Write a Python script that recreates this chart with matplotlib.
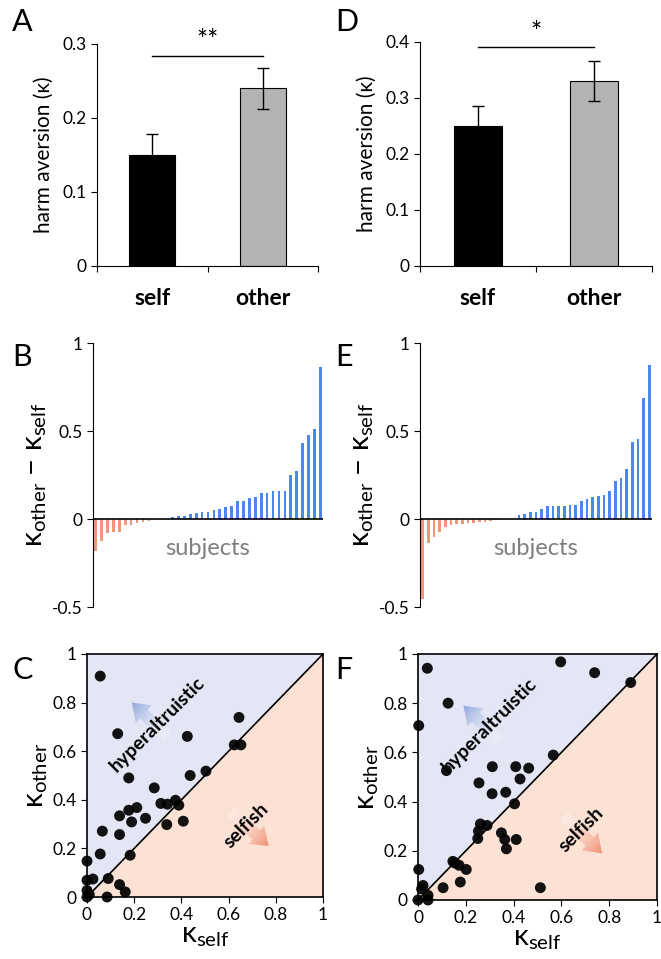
from matplotlib import pyplot as plt
from matplotlib.patches import Polygon, FancyArrow
import numpy as np

plt.rcParams['font.family'] = ['Lato', 'DejaVu Sans']
plt.rcParams['mathtext.fontset'] = 'custom'
plt.rcParams['mathtext.rm'] = 'Lato'
plt.rcParams['mathtext.it'] = 'Lato:italic'
plt.rcParams['mathtext.bf'] = 'Lato:bold'

W, H = 661, 959

# ---- data ----
groups = ["self", "other"]
kappa_A = [0.15, 0.24]
err_A = [0.028, 0.028]
kappa_D = [0.25, 0.33]
err_D = [0.036, 0.036]

diff_B = [-0.18, -0.123, -0.078, -0.072, -0.072, -0.032, -0.032, -0.023, -0.017, -0.01,
          0, 0, 0,
          0.01, 0.015, 0.015, 0.027, 0.032, 0.038, 0.038, 0.049, 0.057, 0.068, 0.074,
          0.1, 0.102, 0.12, 0.127, 0.146, 0.15, 0.161, 0.161, 0.161, 0.249, 0.271,
          0.433, 0.476, 0.512, 0.863]
diff_E = [-0.455, -0.137, -0.102, -0.076, -0.046, -0.034, -0.03, -0.027, -0.023, -0.023,
          -0.019, -0.017, -0.013, -0.008,
          0, 0, 0,
          0.02, 0.03, 0.038, 0.042, 0.059, 0.072, 0.072, 0.072, 0.076, 0.08, 0.08,
          0.1, 0.114, 0.127, 0.131, 0.135, 0.157, 0.218, 0.235, 0.283, 0.436, 0.457,
          0.69, 0.873]

self_C = [0.056, 0.13, 0.177, 0.285, 0.644, 0.425, 0.624, 0.652, 0.437, 0.504,
          0.138, 0.177, 0.211, 0.248, 0.189, 0.313, 0.341, 0.375, 0.389, 0.338,
          0.408, 0.065, 0.138, 0.056, 0.183, 0.0, 0.0, 0.025, 0.09, 0.138,
          0.162, 0.085, 0.0, 0.0, 0.01]
other_C = [0.909, 0.672, 0.49, 0.449, 0.739, 0.661, 0.626, 0.626, 0.5, 0.518,
           0.334, 0.357, 0.368, 0.324, 0.309, 0.385, 0.382, 0.398, 0.378, 0.298,
           0.312, 0.271, 0.257, 0.177, 0.172, 0.148, 0.069, 0.074, 0.076, 0.051,
           0.021, 0.0, 0.027, 0.0, 0.01]

self_F = [0.039, 0.597, 0.739, 0.89, 0.126, 0.003, 0.119, 0.566, 0.311, 0.409,
          0.463, 0.427, 0.255, 0.31, 0.367, 0.404, 0.261, 0.289, 0.253, 0.25,
          0.349, 0.363, 0.411, 0.37, 0.146, 0.172, 0.202, 0.003, 0.021, 0.015,
          0.105, 0.177, 0.512, 0.0, 0.042, 0.042, 0.155]
other_F = [0.942, 0.968, 0.924, 0.884, 0.8, 0.709, 0.526, 0.589, 0.542, 0.542,
           0.536, 0.492, 0.476, 0.432, 0.438, 0.391, 0.309, 0.303, 0.28, 0.25,
           0.273, 0.246, 0.246, 0.208, 0.157, 0.141, 0.124, 0.124, 0.059, 0.045,
           0.05, 0.073, 0.05, 0.0, 0.019, 0.0, 0.15]

BLUE = "#4b87ef"
ORANGE = "#f4957b"

fig = plt.figure(figsize=(W / 100, H / 100), dpi=100)


def px_axes(l, t, r, b):
    return fig.add_axes([l / W, 1 - b / H, (r - l) / W, (b - t) / H])


def bar_panel(ax, vals, errs, ymax, star, sig_y):
    ax.bar([0, 1], vals, width=0.42, color=["black", "#b3b3b3"], edgecolor="black",
           linewidth=0.8, yerr=errs, capsize=4, error_kw=dict(elinewidth=1, capthick=1))
    ax.set_xlim(-0.5, 1.5)
    ax.set_ylim(0, ymax)
    ax.set_yticks(np.arange(0, ymax + 0.001, 0.1))
    ax.set_yticklabels(["0"] + ["%.1f" % v for v in np.arange(0.1, ymax + 0.001, 0.1)])
    ax.set_xticks([-0.5, 0.5, 1.5])
    ax.set_xticklabels([])
    ax.tick_params(direction="out", length=4, labelsize=12.5)
    for s in ["top", "right"]:
        ax.spines[s].set_visible(False)
    ax.set_ylabel("harm aversion (κ)", fontsize=15, labelpad=6)
    for i, g in enumerate(groups):
        ax.text(i, -0.145 * ymax, g, ha="center", va="center", fontsize=16.5,
                fontweight="bold", transform=ax.transData, clip_on=False)
    ax.plot([0, 1], [sig_y, sig_y], color="black", lw=1, clip_on=False)
    ax.text(0.5, sig_y + 0.002 * ymax / 0.3, star, ha="center", va="bottom", fontsize=19,
            clip_on=False)


def diff_panel(ax, vals):
    x = np.arange(len(vals))
    cols = [ORANGE if v < 0 else BLUE for v in vals]
    ax.bar(x, vals, width=0.45, color=cols, linewidth=0)
    ax.set_xlim(-0.45, len(vals) - 0.55)
    ax.set_ylim(-0.5, 1)
    ax.axhline(0, color="black", lw=1.2)
    ax.set_yticks([-0.5, 0, 0.5, 1])
    ax.set_yticklabels(["-0.5", "0", "0.5", "1"])
    ax.set_xticks([])
    ax.tick_params(direction="out", length=4, labelsize=12.5)
    for s in ["top", "right", "bottom"]:
        ax.spines[s].set_visible(False)
    ax.set_ylabel("κ$_{\\mathrm{other}}$ − κ$_{\\mathrm{self}}$", fontsize=21, labelpad=2)
    ax.text(0.5, -0.165, "subjects", color="#7f7f7f", fontsize=17, ha="center",
            va="center", transform=ax.get_yaxis_transform())


def grad_arrow(ax, x0, y0, x1, y1, color):
    dx, dy = x1 - x0, y1 - y0
    arr = FancyArrow(x0, y0, dx, dy, width=0.05, head_width=0.1, head_length=0.07,
                     length_includes_head=True, facecolor="none", edgecolor="none")
    ax.add_patch(arr)
    gx = np.linspace(0, 1, 300)
    X, Y = np.meshgrid(gx, gx)
    t = np.clip(((X - x0) * dx + (Y - y0) * dy) / (dx * dx + dy * dy), 0, 1)
    c = np.array(plt.matplotlib.colors.to_rgb(color))
    img = np.ones((300, 300, 4))
    for k in range(3):
        img[..., k] = 1 - (1 - c[k]) * t
    img[..., 3] = 0.25 + 0.75 * t
    im = ax.imshow(img, extent=[0, 1, 0, 1], origin="lower", aspect="auto", zorder=2)
    im.set_clip_path(arr)


def scatter_panel(ax, xs, ys, t1, t2):
    ax.add_patch(Polygon([(0, 0), (0, 1), (1, 1)], closed=True, facecolor="#e4e6f5",
                         edgecolor="none", zorder=0))
    ax.add_patch(Polygon([(0, 0), (1, 0), (1, 1)], closed=True, facecolor="#fce2d5",
                         edgecolor="none", zorder=0))
    ax.plot([0, 1], [0, 1], color="black", lw=1.2, zorder=1)
    grad_arrow(ax, *t1[0], "#8fa6dc")
    grad_arrow(ax, *t2[0], "#f28f6f")
    ax.scatter(xs, ys, s=62, color="black", alpha=0.92, edgecolors="none", zorder=4,
               clip_on=False)
    ax.text(t1[1][0], t1[1][1], "hyperaltruistic", rotation=45, ha="center", va="center",
            fontsize=14, fontweight="bold", rotation_mode="anchor", zorder=5)
    ax.text(t2[1][0], t2[1][1], "selfish", rotation=45, ha="center", va="center",
            fontsize=14, fontweight="bold", rotation_mode="anchor", zorder=5)
    ax.set_xlim(0, 1)
    ax.set_ylim(0, 1)
    ticks = [0, 0.2, 0.4, 0.6, 0.8, 1]
    labs = ["0", "0.2", "0.4", "0.6", "0.8", "1"]
    ax.set_xticks(ticks)
    ax.set_xticklabels(labs)
    ax.set_yticks(ticks)
    ax.set_yticklabels(labs)
    ax.tick_params(direction="out", length=4, labelsize=12.5)
    for s in ax.spines.values():
        s.set_linewidth(1.2)
    ax.set_xlabel("κ$_{\\mathrm{self}}$", fontsize=21, labelpad=0)
    ax.set_ylabel("κ$_{\\mathrm{other}}$", fontsize=21, labelpad=2)


axA = px_axes(97, 44, 318, 266)
bar_panel(axA, kappa_A, err_A, 0.3, "**", 0.284)
axD = px_axes(420, 42, 652, 266)
bar_panel(axD, kappa_D, err_D, 0.4, "*", 0.391)

axB = px_axes(93, 343, 323, 607)
diff_panel(axB, diff_B)
axE = px_axes(420, 343, 652, 607)
diff_panel(axE, diff_E)

axC = px_axes(87, 654, 323, 897)
scatter_panel(axC, self_C, other_C,
              [(0.34, 0.66, 0.19, 0.80), (0.30, 0.71)],
              [(0.61, 0.35, 0.77, 0.21), (0.676, 0.295)])
axF = px_axes(418, 654, 657, 900)
scatter_panel(axF, self_F, other_F,
              [(0.34, 0.65, 0.19, 0.79), (0.30, 0.71)],
              [(0.61, 0.34, 0.77, 0.19), (0.683, 0.286)])

for lab, (px, py) in zip("ABCDEF", [(12, 22), (12, 357), (12, 670),
                                   (335, 22), (335, 357), (335, 670)]):
    fig.text(px / W, 1 - py / H, lab, fontsize=22, ha="left", va="center")

fig.savefig("out.png", dpi=100)
